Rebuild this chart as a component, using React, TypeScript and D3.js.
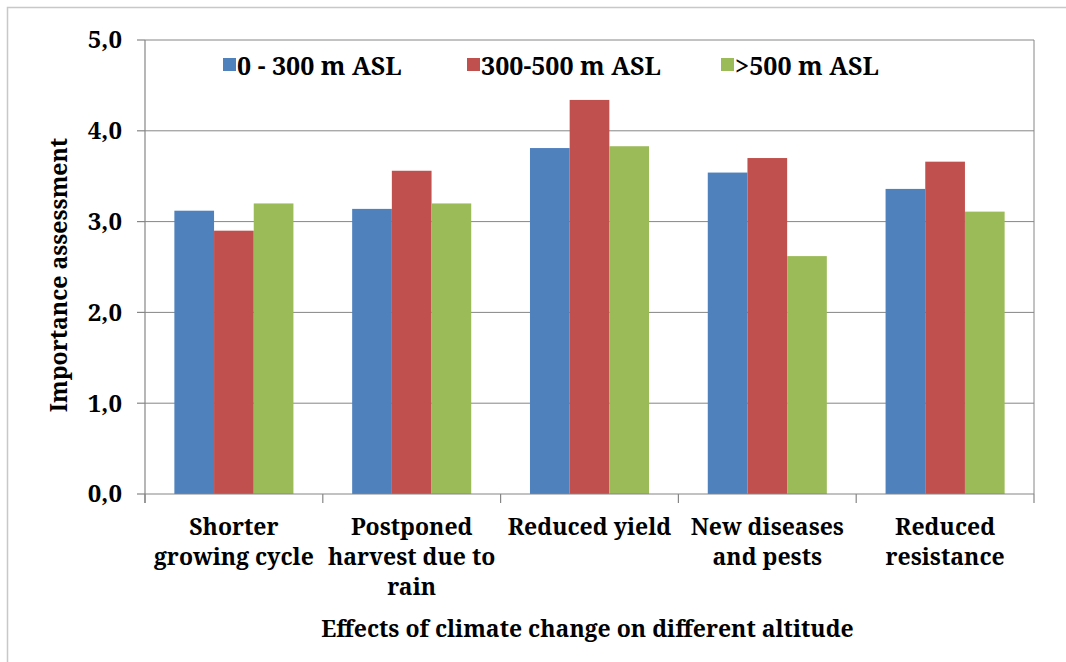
import React from "react";
import * as d3 from "d3";

const categories: string[][] = [
  ["Shorter", "growing cycle"],
  ["Postponed", "harvest due to", "rain"],
  ["Reduced yield"],
  ["New diseases", "and pests"],
  ["Reduced", "resistance"],
];
const seriesNames = ["0 - 300 m ASL", "300-500 m ASL", ">500 m ASL"];
const low = [3.12, 3.14, 3.81, 3.54, 3.36];
const mid = [2.9, 3.56, 4.34, 3.7, 3.66];
const high = [3.2, 3.2, 3.83, 2.62, 3.11];
const seriesValues = [low, mid, high];
const colors = ["#4f81bd", "#c0504d", "#9bbb59"];
const yTicks = [0, 1, 2, 3, 4, 5];
const yTitle = "Importance assessment";
const xTitle = "Effects of climate change on different altitude";

const W = 1066;
const H = 662;
const left = 145;
const right = 1034;
const top = 40;
const bottom = 494;
const FONT = "'Noto Serif', 'Liberation Serif', serif";

export default function App() {
  const y = d3.scaleLinear().domain([0, 5]).range([bottom, top]);
  const x0 = d3
    .scaleBand<number>()
    .domain(d3.range(categories.length))
    .range([left, right])
    .padding(0);
  const x1 = d3
    .scaleBand<number>()
    .domain(d3.range(seriesNames.length))
    .range([0, x0.bandwidth()])
    .paddingInner(0)
    .paddingOuter(0.74);
  const fmt = (v: number) => d3.format(".1f")(v).replace(".", ",");
  const legendX = [223, 467, 721];
  const sepX = d3.range(categories.length + 1).map((i) =>
    i < categories.length ? (x0(i) as number) : right
  );
  const txt = { fontFamily: FONT, fontWeight: 700 as const };

  return (
    <svg
      width={W}
      height={H}
      style={{ position: "absolute", left: 0, top: 0, background: "#fff" }}
    >
      <rect x={0} y={0} width={W} height={H} fill="#fff" />
      <rect x={7.5} y={7.5} width={W + 20} height={H + 20} fill="none" stroke="#c8c8c8" strokeWidth={1.5} />
      {yTicks.filter((t) => t > 0).map((t) => (
        <line key={"g" + t} x1={left} x2={right} y1={y(t)} y2={y(t)} stroke="#868686" strokeWidth={1} />
      ))}
      <line x1={right} x2={right} y1={top} y2={bottom} stroke="#868686" strokeWidth={1} />
      {seriesValues.map((vals, s) =>
        vals.map((v, i) => (
          <rect
            key={`b${s}-${i}`}
            x={(x0(i) as number) + (x1(s) as number)}
            y={y(v)}
            width={x1.bandwidth()}
            height={bottom - y(v)}
            fill={colors[s]}
          />
        ))
      )}
      <line x1={left} x2={left} y1={top} y2={bottom + 9} stroke="#868686" strokeWidth={1.2} />
      {yTicks.map((t) => (
        <g key={"t" + t}>
          <line x1={left - 8} x2={left} y1={y(t)} y2={y(t)} stroke="#868686" strokeWidth={1.2} />
          <text x={122} y={y(t)} dy="0.35em" textAnchor="end" fontSize={24} fill="#000" style={txt}>
            {fmt(t)}
          </text>
        </g>
      ))}
      <line x1={left} x2={right} y1={bottom} y2={bottom} stroke="#868686" strokeWidth={1.2} />
      {sepX.map((sx, i) => (
        <line key={"s" + i} x1={sx} x2={sx} y1={bottom} y2={bottom + 9} stroke="#868686" strokeWidth={1.2} />
      ))}
      {categories.map((lines, i) => (
        <text
          key={"c" + i}
          x={(x0(i) as number) + x0.bandwidth() / 2}
          y={535}
          textAnchor="middle"
          fontSize={23}
          fill="#000"
          style={txt}
        >
          {lines.map((ln, j) => (
            <tspan key={j} x={(x0(i) as number) + x0.bandwidth() / 2} dy={j === 0 ? 0 : 30}>
              {ln}
            </tspan>
          ))}
        </text>
      ))}
      <text x={(left + right) / 2 - 2} y={637} textAnchor="middle" fontSize={23} fill="#000" style={txt}>
        {xTitle}
      </text>
      <text
        transform={`translate(67, ${(top + bottom) / 2 + 8}) rotate(-90)`}
        textAnchor="middle"
        fontSize={23}
        fill="#000"
        style={txt}
      >
        {yTitle}
      </text>
      {seriesNames.map((n, s) => (
        <g key={"l" + s}>
          <rect x={legendX[s]} y={58} width={13} height={13} fill={colors[s]} />
          <text x={legendX[s] + 14} y={75} fontSize={25} fill="#000" style={txt}>
            {n}
          </text>
        </g>
      ))}
    </svg>
  );
}
